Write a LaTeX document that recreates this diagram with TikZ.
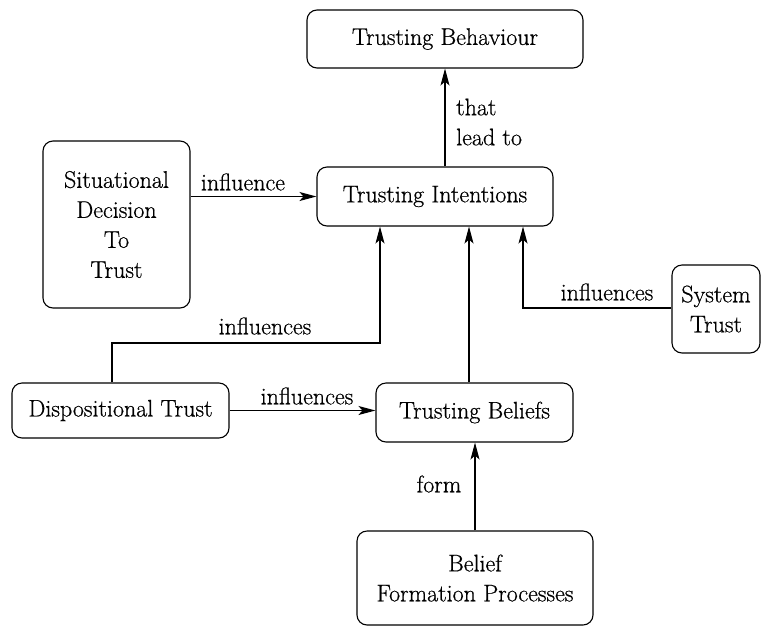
\documentclass[tikz,border=0pt]{standalone}
\usepackage{fontspec}
\setmainfont{Latin Modern Roman}[FakeBold=0.6]
\usetikzlibrary{arrows.meta}
\begin{document}
\begin{tikzpicture}[x=1pt,y=-1pt,
  box/.style={draw,line width=1.1pt,rounded corners=10pt,inner sep=0pt,align=center,
    font=\fontsize{24}{30}\selectfont},
  arr/.style={line width=1.1pt,-{Stealth[length=17pt,width=9pt,inset=4pt]}},
  lbl/.style={inner sep=0pt,font=\fontsize{24}{30}\selectfont}]
\useasboundingbox (0,0) rectangle (762,627);
\node[box,minimum width=276pt,minimum height=58pt] (beh) at (445,39) {Trusting Behaviour};
\node[box,minimum width=236pt,minimum height=59pt] (int) at (435,196.5) {Trusting Intentions};
\node[box,minimum width=147pt,minimum height=167pt] (sit) at (116.5,224.5) {Situational\\Decision\\To\\Trust};
\node[box,minimum width=217pt,minimum height=55pt] (disp) at (120.5,410.5) {Dispositional Trust};
\node[box,minimum width=197pt,minimum height=59pt] (bel) at (474.5,412.5) {Trusting Beliefs};
\node[box,minimum width=236pt,minimum height=94pt] (form) at (475,578) {Belief\\Formation Processes};
\node[box,minimum width=88pt,minimum height=88pt] (sys) at (716,309) {System\\Trust};
\coordinate (k1) at (380,343);
\coordinate (k2) at (523,308);
\draw[arr] (int.north -| beh.south) -- (beh.south);
\draw[arr] (sit.east |- int.west) -- (int.west);
\draw[arr] ([xshift=-8.5pt]disp.north) |- (k1) -- (k1 |- int.south);
\draw[arr] (disp.east) -- (disp.east -| bel.west);
\draw[arr] ([xshift=-5.5pt]bel.north) -- ([xshift=-5.5pt]bel.north |- int.south);
\draw[arr] (form.north) -- (form.north |- bel.south);
\draw[arr] (sys.west |- k2) -- (k2) -- (k2 |- int.south);
\node[lbl,align=left,anchor=west] (l1) at (456,122) {that\\lead to};
\node[lbl] (l2) at (243,182) {influence};
\node[lbl] (l3) at (265,326) {influences};
\node[lbl] (l4) at (307,396) {influences};
\node[lbl] (l5) at (439,484) {form};
\node[lbl] (l6) at (607,292) {influences};
\end{tikzpicture}
\end{document}
